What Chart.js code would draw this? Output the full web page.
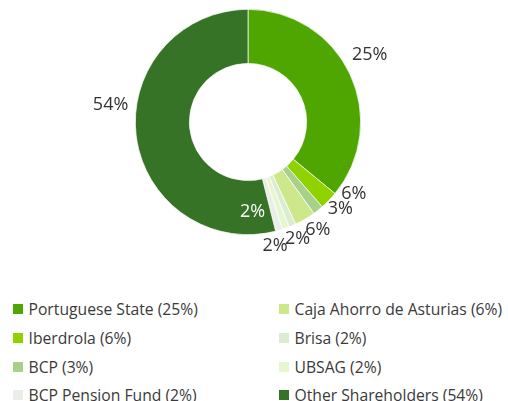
<!DOCTYPE html>
<html>
<head>
<meta charset="utf-8">
<script src="https://cdn.jsdelivr.net/npm/chart.js"></script>
<style>
  body { margin: 0; background: #fff; font-family: "Open Sans", sans-serif; }
  #wrap { position: relative; width: 508px; height: 401px; overflow: hidden; }
  #chartBox { position: absolute; left: 0; top: 0; width: 508px; height: 260px; }
  #legend { position: absolute; left: 13px; top: 295px; width: 495px;
            display: grid; grid-template-columns: 266px 229px; grid-template-rows: repeat(4, 28.7px);
            grid-auto-flow: column; }
  .item { display: flex; align-items: center; font-size: 15.7px; color: #3a3a3a; white-space: nowrap; }
  .box { width: 10px; height: 10px; margin-right: 5.5px; flex: none; }
</style>
</head>
<body>
<div id="wrap">
  <div id="chartBox"><canvas id="myChart"></canvas></div>
  <div id="legend"></div>
</div>
<script>
// slices in drawing order (clockwise from 12 o'clock)
const holders = ["Portuguese State", "Iberdrola", "BCP", "Caja Ahorro de Asturias", "Brisa", "UBSAG", "BCP Pension Fund", "Other Shareholders"];
const shares = [36, 2.6, 1.5, 3, 1, 1, 1, 54];          // slice sizes as drawn
const pctLabels = ["25%", "6%", "3%", "6%", "2%", "2%", "2%", "54%"];  // text printed on the chart
const colors = ["#50a600", "#8fd200", "#a8d08a", "#cde88a", "#dcecd0", "#e7f6cf", "#e9efe6", "#367326"];

// legend order (column by column)
const legendOrder = [0, 1, 2, 6, 3, 4, 5, 7];

document.addEventListener("DOMContentLoaded", function () {
    // Build the legend
    let legend = document.getElementById("legend");
    legendOrder.forEach(function (i) {
        let div = document.createElement("div");
        div.className = "item";
        div.innerHTML = '<span class="box" style="background:' + colors[i] + '"></span>' +
            holders[i] + " (" + pctLabels[i] + ")";
        legend.appendChild(div);
    });

    // label spots relative to centre, in units of the outer radius
    const spots = [[1.08, -0.60], [0.94, 0.64], [0.82, 0.77], [0.62, 0.96],
                   [0.44, 1.04], [0.24, 1.10], [0.04, 0.80], [-1.22, -0.15]];

    const pctPlugin = {
        id: "pctPlugin",
        afterDatasetsDraw(chart) {
            const ctx = chart.ctx;
            const arcs = chart.getDatasetMeta(0).data;
            const cx = arcs[0].x, cy = arcs[0].y, R = arcs[0].outerRadius;
            ctx.save();
            ctx.font = '18px "Open Sans", sans-serif';
            ctx.textAlign = "center";
            ctx.textBaseline = "middle";
            pctLabels.forEach(function (txt, i) {
                ctx.fillStyle = i === 6 ? "#ffffff" : "#333333";
                ctx.fillText(txt, cx + spots[i][0] * R, cy + spots[i][1] * R);
            });
            ctx.restore();
        }
    };

    let ctx = document.getElementById("myChart").getContext("2d");
    new Chart(ctx, {
        type: "doughnut",
        data: {
            labels: holders,
            datasets: [{
                data: shares,
                backgroundColor: colors,
                borderColor: "#ffffff",
                borderWidth: 0.7
            }]
        },
        options: {
            responsive: true,
            maintainAspectRatio: false,
            animation: false,
            cutout: "52%",
            layout: { padding: { left: 135, right: 147, top: 9, bottom: 25 } },
            plugins: {
                legend: { display: false },
                tooltip: { enabled: false }
            }
        },
        plugins: [pctPlugin]
    });
});
</script>
</body>
</html>
